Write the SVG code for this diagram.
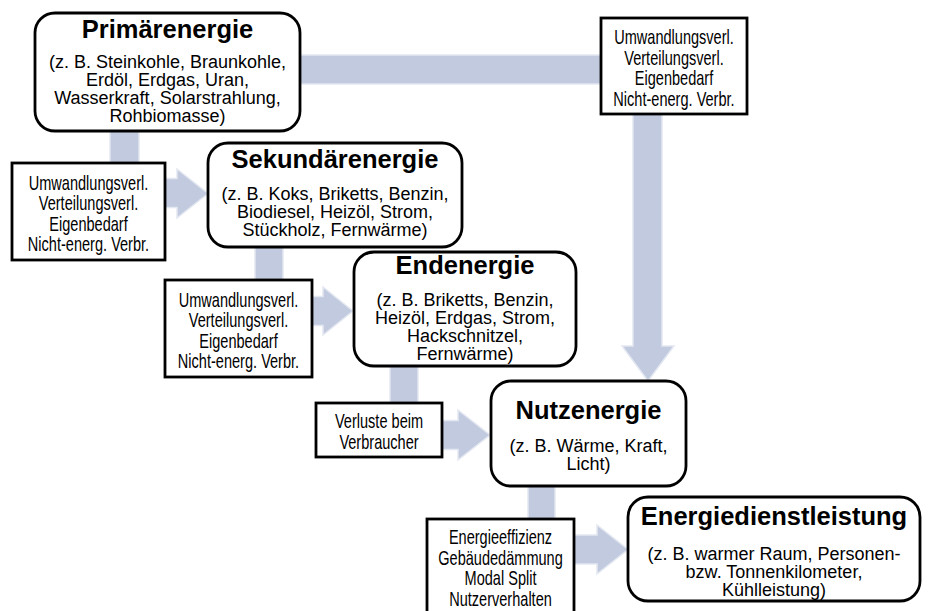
<svg xmlns="http://www.w3.org/2000/svg" width="928" height="611" viewBox="0 0 928 611">
<style>
.bg{fill:#ffffff}
.arrow{fill:#c1cadf;stroke:#e4e8f1;stroke-width:1.5;stroke-linejoin:miter}
.node{fill:#ffffff;stroke:#000000;stroke-width:2.8}
.title{font-family:"Liberation Sans",Arial,sans-serif;font-weight:bold;font-size:25.5px;fill:#000;text-anchor:middle}
.body{font-family:"Liberation Sans",Arial,sans-serif;font-size:18px;fill:#000;text-anchor:middle}
.narrow{font-family:"Liberation Sans",Arial,sans-serif;font-size:20.5px;fill:#000;text-anchor:middle}
</style>
<rect class="bg" x="0" y="0" width="928" height="611"/>
<g id="connectors">
  <path class="arrow" d="M290 55 L662 55 L662 346 L674 346 L648 381 L622 346 L633 346 L633 84 L290 84 Z"/>
  <path class="arrow" d="M110 125 L139 125 L139 178.5 L177 178.5 L177 169 L208 193.5 L177 218 L177 207.5 L110 207.5 Z"/>
  <path class="arrow" d="M255 240 L283 240 L283 296.5 L323 296.5 L323 287 L353 311 L323 335 L323 325.5 L255 325.5 Z"/>
  <path class="arrow" d="M390 360 L418 360 L418 420.5 L458 420.5 L458 410 L490 435 L458 460 L458 449.5 L390 449.5 Z"/>
  <path class="arrow" d="M528 480 L555 480 L555 535 L597 535 L597 525 L628 549.5 L597 574 L597 564 L528 564 Z"/>
</g>
<g id="primaerenergie">
  <rect class="node" x="35" y="13" width="265" height="118" rx="20" ry="20"/>
  <text class="title" x="167.5" y="38">Primärenergie</text>
  <text class="body" x="167.5" y="68">(z. B. Steinkohle, Braunkohle,</text>
  <text class="body" x="167.5" y="86">Erdöl, Erdgas, Uran,</text>
  <text class="body" x="167.5" y="104">Wasserkraft, Solarstrahlung,</text>
  <text class="body" x="167.5" y="122">Rohbiomasse)</text>
</g>
<g id="verluste-primaer-nutz">
  <rect class="node" x="601" y="18" width="146" height="96"/>
  <g transform="translate(674,0) scale(0.71,1)">
    <text class="narrow" x="0" y="44.5">Umwandlungsverl.</text>
    <text class="narrow" x="0" y="65">Verteilungsverl.</text>
    <text class="narrow" x="0" y="85.5">Eigenbedarf</text>
    <text class="narrow" x="0" y="106">Nicht-energ. Verbr.</text>
  </g>
</g>
<g id="verluste-primaer-sekundaer">
  <rect class="node" x="12" y="163" width="153" height="97"/>
  <g transform="translate(88.5,0) scale(0.71,1)">
    <text class="narrow" x="0" y="190">Umwandlungsverl.</text>
    <text class="narrow" x="0" y="210.5">Verteilungsverl.</text>
    <text class="narrow" x="0" y="231">Eigenbedarf</text>
    <text class="narrow" x="0" y="251.5">Nicht-energ. Verbr.</text>
  </g>
</g>
<g id="sekundaerenergie">
  <rect class="node" x="208" y="143" width="254" height="104" rx="20" ry="20"/>
  <text class="title" x="335" y="168">Sekundärenergie</text>
  <text class="body" x="335" y="200">(z. B. Koks, Briketts, Benzin,</text>
  <text class="body" x="335" y="218">Biodiesel, Heizöl, Strom,</text>
  <text class="body" x="335" y="236">Stückholz, Fernwärme)</text>
</g>
<g id="verluste-sekundaer-end">
  <rect class="node" x="165" y="280" width="147" height="97"/>
  <g transform="translate(238.5,0) scale(0.71,1)">
    <text class="narrow" x="0" y="307">Umwandlungsverl.</text>
    <text class="narrow" x="0" y="327.5">Verteilungsverl.</text>
    <text class="narrow" x="0" y="348">Eigenbedarf</text>
    <text class="narrow" x="0" y="368.5">Nicht-energ. Verbr.</text>
  </g>
</g>
<g id="endenergie">
  <rect class="node" x="354" y="252" width="222" height="114" rx="20" ry="20"/>
  <text class="title" x="465" y="274">Endenergie</text>
  <text class="body" x="465" y="306">(z. B. Briketts, Benzin,</text>
  <text class="body" x="465" y="324">Heizöl, Erdgas, Strom,</text>
  <text class="body" x="465" y="342">Hackschnitzel,</text>
  <text class="body" x="465" y="360">Fernwärme)</text>
</g>
<g id="verluste-verbraucher">
  <rect class="node" x="316" y="403" width="126" height="54"/>
  <g transform="translate(379,0) scale(0.71,1)">
    <text class="narrow" x="0" y="428.5">Verluste beim</text>
    <text class="narrow" x="0" y="449">Verbraucher</text>
  </g>
</g>
<g id="nutzenergie">
  <rect class="node" x="491" y="381" width="195" height="105" rx="20" ry="20"/>
  <text class="title" x="588.5" y="419">Nutzenergie</text>
  <text class="body" x="588.5" y="452">(z. B. Wärme, Kraft,</text>
  <text class="body" x="588.5" y="470">Licht)</text>
</g>
<g id="massnahmen">
  <rect class="node" x="427" y="519" width="147" height="100"/>
  <g transform="translate(500.5,0) scale(0.71,1)">
    <text class="narrow" x="0" y="544.5">Energieeffizienz</text>
    <text class="narrow" x="0" y="565">Gebäudedämmung</text>
    <text class="narrow" x="0" y="585.5">Modal Split</text>
    <text class="narrow" x="0" y="606">Nutzerverhalten</text>
  </g>
</g>
<g id="energiedienstleistung">
  <rect class="node" x="628" y="497" width="292" height="104" rx="20" ry="20"/>
  <text class="title" x="774" y="525">Energiedienstleistung</text>
  <text class="body" x="774" y="560">(z. B. warmer Raum, Personen-</text>
  <text class="body" x="774" y="578">bzw. Tonnenkilometer,</text>
  <text class="body" x="774" y="596">Kühlleistung)</text>
</g>
</svg>
